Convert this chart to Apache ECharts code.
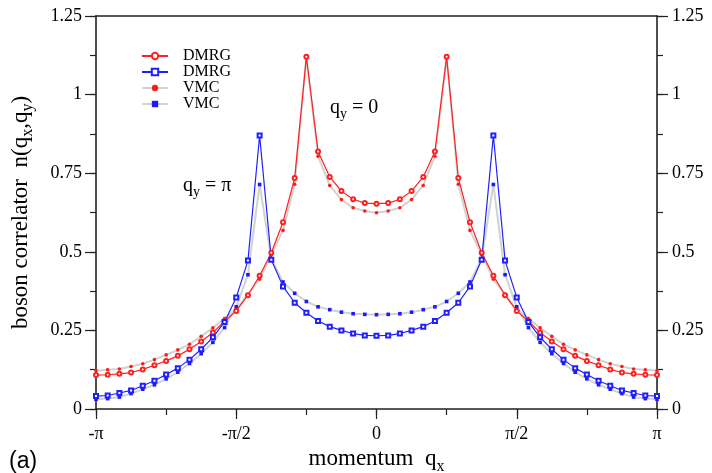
<!DOCTYPE html>
<html>
<head>
<meta charset="utf-8">
<script src="https://cdn.jsdelivr.net/npm/echarts@6/dist/echarts.min.js"></script>
<style>html,body{margin:0;padding:0;background:#fff}#c{width:712px;height:473px}</style>
</head>
<body>
<div id="c"></div>
<script>
// momentum index n, q_x = n * pi / 24
const qIndex = [-24,-23,-22,-21,-20,-19,-18,-17,-16,-15,-14,-13,-12,-11,-10,-9,-8,-7,-6,-5,-4,-3,-2,-1,0,1,2,3,4,5,6,7,8,9,10,11,12,13,14,15,16,17,18,19,20,21,22,23,24];
const tickValues = [-24, -12, 0, 12, 24];
const tickLabels = ['-\u03c0', '-\u03c0/2', '0', '\u03c0/2', '\u03c0'];

const redDMRG = [0.108,0.109,0.112,0.116,0.126,0.139,0.153,0.169,0.190,0.215,0.243,0.279,0.312,0.362,0.424,0.497,0.594,0.735,1.120,0.819,0.738,0.693,0.667,0.655,0.653,0.655,0.667,0.693,0.738,0.819,1.120,0.735,0.594,0.497,0.424,0.362,0.312,0.279,0.243,0.215,0.190,0.169,0.153,0.139,0.126,0.116,0.112,0.109,0.108];
const blueDMRG = [0.041,0.043,0.051,0.059,0.074,0.090,0.110,0.130,0.157,0.190,0.228,0.277,0.355,0.472,0.870,0.475,0.390,0.338,0.306,0.280,0.262,0.250,0.240,0.234,0.233,0.234,0.240,0.250,0.262,0.280,0.306,0.338,0.390,0.475,0.870,0.472,0.355,0.277,0.228,0.190,0.157,0.130,0.110,0.090,0.074,0.059,0.051,0.043,0.041];
const redVMC = [0.122,0.125,0.127,0.135,0.144,0.157,0.172,0.188,0.206,0.231,0.258,0.288,0.317,0.365,0.413,0.490,0.568,0.715,1.120,0.804,0.711,0.666,0.640,0.630,0.624,0.630,0.640,0.666,0.711,0.804,1.120,0.715,0.568,0.490,0.413,0.365,0.317,0.288,0.258,0.231,0.206,0.188,0.172,0.157,0.144,0.135,0.127,0.125,0.122];
const blueVMC = [0.031,0.033,0.038,0.049,0.063,0.077,0.096,0.117,0.145,0.176,0.212,0.259,0.325,0.427,0.714,0.478,0.404,0.368,0.342,0.325,0.316,0.308,0.303,0.301,0.300,0.301,0.303,0.308,0.316,0.325,0.342,0.368,0.404,0.478,0.714,0.427,0.325,0.259,0.212,0.176,0.145,0.117,0.096,0.077,0.063,0.049,0.038,0.033,0.031];

const seriesNames = ['DMRG qy=0', 'DMRG qy=pi', 'VMC qy=0', 'VMC qy=pi'];

const FONT = '"Liberation Serif", "DejaVu Serif", serif';
const pair = arr => qIndex.map((q, i) => [q, arr[i]]);

const chart = echarts.init(document.getElementById('c'), null, {renderer: 'canvas'});
const axisLineStyle = {color: '#222', width: 1.6};
const tickStyle = {color: '#222', width: 1.2};
const labelStyle = {fontFamily: FONT, fontSize: 18, color: '#000'};

// extra axes carrying only the shorter minor ticks
const minorX = {
  type: 'value', min: -24, max: 24, interval: 6, position: 'bottom',
  axisLine: {show: false, onZero: false}, axisTick: {show: true, length: 6, lineStyle: tickStyle},
  axisLabel: {show: false}, splitLine: {show: false}
};
const minorY = pos => ({
  type: 'value', min: 0, max: 1.25, interval: 0.125, position: pos,
  axisLine: {show: false, onZero: false}, axisTick: {show: true, length: 6, lineStyle: tickStyle},
  axisLabel: {show: false}, splitLine: {show: false}
});

chart.setOption({
  animation: false,
  backgroundColor: '#fff',
  textStyle: {fontFamily: FONT, color: '#000'},
  grid: {left: 96, right: 55, top: 16, bottom: 64, containLabel: false, outerBoundsMode: 'none'},
  legend: {
    orient: 'vertical', left: 136, top: 43,
    data: seriesNames,
    itemWidth: 26, itemHeight: 8, itemGap: 0,
    formatter: name => name.split(' ')[0],
    textStyle: {fontFamily: FONT, fontSize: 16, lineHeight: 14, color: '#000', padding: [0, 0, 0, 10]},
    selectedMode: false
  },
  xAxis: [{
    type: 'value', min: -24, max: 24, interval: 12, position: 'bottom',
    axisLine: {show: true, onZero: false, lineStyle: axisLineStyle},
    axisTick: {show: true, length: 10, lineStyle: tickStyle},
    splitLine: {show: false},
    axisLabel: Object.assign({}, labelStyle, {margin: 16,
      formatter: v => { const k = tickValues.indexOf(v); return k >= 0 ? tickLabels[k] : ''; }}),
    name: 'momentum  q{s|x}', nameLocation: 'middle', nameGap: 35,
    nameTextStyle: {fontFamily: FONT, fontSize: 23, color: '#000',
      rich: {s: {fontFamily: FONT, fontSize: 16, color: '#000', padding: [14, 0, 0, 0]}}}
  }, {
    type: 'value', min: -24, max: 24, interval: 12, position: 'top',
    axisLine: {show: true, onZero: false, lineStyle: axisLineStyle},
    axisTick: {show: false}, axisLabel: {show: false}, splitLine: {show: false}
  }, minorX],
  yAxis: [{
    type: 'value', min: 0, max: 1.25, interval: 0.25, position: 'left',
    axisLine: {show: true, onZero: false, lineStyle: axisLineStyle},
    axisTick: {show: true, length: 11, lineStyle: tickStyle},
    splitLine: {show: false},
    axisLabel: Object.assign({}, labelStyle, {margin: 14}),
    name: 'boson correlator  n(q{s|x},q{s|y})', nameLocation: 'middle', nameGap: 60, nameRotate: 90,
    nameTextStyle: {fontFamily: FONT, fontSize: 23, color: '#000',
      rich: {s: {fontFamily: FONT, fontSize: 16, color: '#000', padding: [14, 0, 0, 0]}}}
  }, {
    type: 'value', min: 0, max: 1.25, interval: 0.25, position: 'right',
    axisLine: {show: true, onZero: false, lineStyle: axisLineStyle},
    axisTick: {show: true, length: 11, lineStyle: tickStyle},
    splitLine: {show: false},
    axisLabel: Object.assign({}, labelStyle, {margin: 15})
  }, minorY('left'), minorY('right')],
  series: [
    {name: seriesNames[2], type: 'line', data: pair(redVMC), z: 2,
     symbol: 'circle', symbolSize: 3.6, showAllSymbol: true,
     lineStyle: {color: '#d2d2d2', width: 2}, itemStyle: {color: '#ff1a1a'}},
    {name: seriesNames[3], type: 'line', data: pair(blueVMC), z: 2,
     symbol: 'rect', symbolSize: 3.6, showAllSymbol: true,
     lineStyle: {color: '#d2d2d2', width: 2}, itemStyle: {color: '#1a1aff'}},
    {name: seriesNames[0], type: 'line', data: pair(redDMRG), z: 3,
     symbol: 'emptyCircle', symbolSize: 4, showAllSymbol: true,
     lineStyle: {color: '#ff2020', width: 1.2}, itemStyle: {color: '#ff2020', borderWidth: 1}},
    {name: seriesNames[1], type: 'line', data: pair(blueDMRG), z: 3,
     symbol: 'emptyRect', symbolSize: 4, showAllSymbol: true,
     lineStyle: {color: '#2020ff', width: 1.2}, itemStyle: {color: '#2020ff', borderWidth: 1}}
  ],
  graphic: [
    {type: 'text', left: 330, top: 98,
     style: {text: 'q{s|y} = 0', font: '20px ' + FONT, fill: '#000',
       rich: {s: {font: '14px ' + FONT, fill: '#000', padding: [12, 0, 0, 0]}}}},
    {type: 'text', left: 183, top: 176,
     style: {text: 'q{s|y} = \u03c0', font: '20px ' + FONT, fill: '#000',
       rich: {s: {font: '14px ' + FONT, fill: '#000', padding: [12, 0, 0, 0]}}}},
    {type: 'text', left: 9, top: 450,
     style: {text: '(a)', font: '23px "Liberation Sans", Arial, sans-serif', fill: '#000'}}
  ]
});
</script>
</body>
</html>
